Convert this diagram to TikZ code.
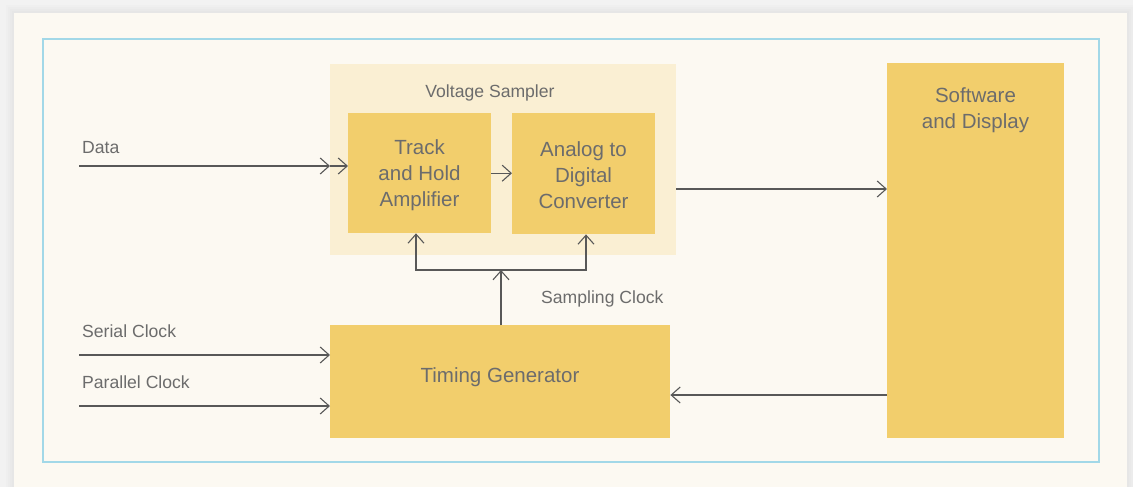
\documentclass[tikz,border=0pt]{standalone}
\usepackage{fontspec}
\setmainfont{Liberation Sans}
\usetikzlibrary{arrows.meta, calc, positioning}
\definecolor{pagegray}{RGB}{242,242,242}
\definecolor{cardbg}{RGB}{252,249,242}
\definecolor{frameblue}{RGB}{162,216,232}
\definecolor{samplerbg}{RGB}{250,239,211}
\definecolor{blockfill}{RGB}{242,206,108}
\definecolor{inkgray}{RGB}{88,88,88}
\definecolor{textgray}{RGB}{108,108,108}

\tikzset{
  >={Straight Barb[length=9pt,width=16pt]},
  wire/.style={draw=inkgray, line width=1.1pt},
  block/.style={fill=blockfill, inner sep=0pt, anchor=north west, text=textgray,
    align=center, font=\fontsize{20.5}{26}\selectfont},
  blocktext/.style={text=textgray, inner sep=0pt, align=center,
    font=\fontsize{20.5}{26}\selectfont},
  sampler/.style={fill=samplerbg, inner sep=0pt, anchor=north west},
  sigtext/.style={text=textgray, inner sep=0pt, font=\fontsize{17.6}{22}\selectfont},
}

\begin{document}
\begin{tikzpicture}[x=1pt, y=-1pt]
\useasboundingbox (0,0) rectangle (1133,487);

%page, card and frame
\fill[pagegray] (0,0) rectangle (1133,487);
\foreach \s in {8,6,4,2}
  \fill[black, opacity=0.01] (14-\s,13-\s) rectangle (1127+\s,487);
\fill[cardbg] (14,13) rectangle (1127,487);
\draw[frameblue, line width=1.2pt] (43,39) rectangle (1099,462);

%blocks
\node[sampler, minimum width=346pt, minimum height=191pt] (vs) at (330,64) {};
\node[sigtext, anchor=base] (vstitle) at (490,97) {Voltage Sampler};
\node[block, minimum width=143pt, minimum height=120pt] (th) at (348,113) {};
\node[blocktext] (thtext) at (419.5,175) {Track\\and Hold\\Amplifier};
\node[block, minimum width=143pt, minimum height=121pt] (adc) at (512,113) {};
\node[blocktext] (adctext) at (583.5,175) {Analog to\\Digital\\Converter};
\node[block, minimum width=177pt, minimum height=375pt] (soft) at (887,63) {};
\node[blocktext, anchor=north] (softtext) at (975.5,87) {Software\\and Display};
\node[block, minimum width=340pt, minimum height=113pt] (timing) at (330,325) {};
\node[blocktext] (timingtext) at (500,377) {Timing Generator};

%inputs
\coordinate (datain) at (79,166);
\coordinate (serin) at (79,355);
\coordinate (parin) at (79,406);
\node[sigtext, anchor=base west] (datatext) at (82,153) {Data};
\node[sigtext, anchor=base west] (sertext) at (82,337) {Serial Clock};
\node[sigtext, anchor=base west] (partext) at (82,388) {Parallel Clock};

\draw[wire, ->] (datain) -- (datain -| vs.west);
\draw[wire, ->] (datain -| vs.west) -- (datain -| th.west);
\draw[wire, ->] (serin) -- (serin -| timing.west);
\draw[wire, ->] (parin) -- (parin -| timing.west);

%sampler chain and display
\draw[wire, ->] (th.east) -- (th.east -| adc.west);
\coordinate (vsout) at (676,189);
\draw[wire, ->] (vsout) -- (vsout -| soft.west);
\coordinate (fb) at (887,395);
\draw[wire, ->] (fb) -- (fb -| timing.east);

%sampling clock
\coordinate (clkup) at (501,270);
\coordinate (clkth) at (416,270);
\coordinate (clkadc) at (586,270);
\draw[wire, ->] (clkup |- timing.north) -- (clkup);
\draw[wire, ->] (clkup) -- (clkth) -- (clkth |- th.south);
\draw[wire, ->] (clkup) -- (clkadc) -- (clkadc |- adc.south);
\node[sigtext, anchor=base west] (clktext) at (541,303) {Sampling Clock};
\end{tikzpicture}
\end{document}
